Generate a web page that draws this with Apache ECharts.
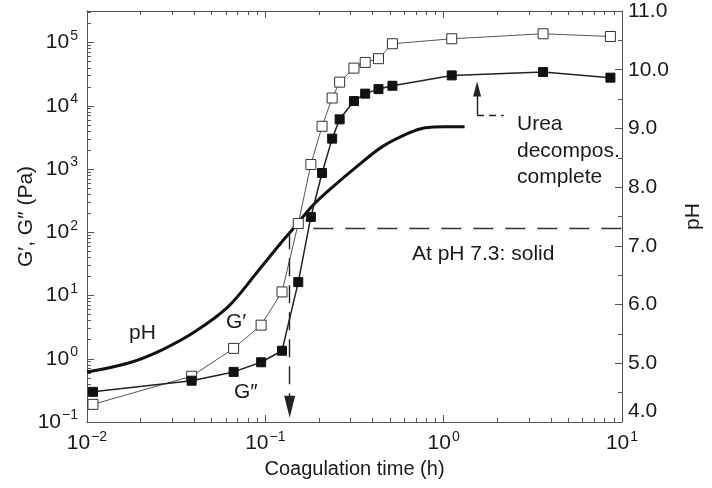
<!DOCTYPE html>
<html>
<head>
<meta charset="utf-8">
<script src="https://cdn.jsdelivr.net/npm/echarts@6/dist/echarts.min.js"></script>
<style>
  html, body { margin: 0; padding: 0; background: #fff; }
  #chart { width: 712px; height: 488px; }
</style>
</head>
<body>
<div id="chart"></div>
<script>
// Coagulation time (h) for the rheology measurements
const timeG = [0.0108, 0.0386, 0.0664, 0.0947, 0.124, 0.153, 0.180, 0.208, 0.237, 0.261, 0.314, 0.363, 0.431, 0.516, 1.11, 3.61, 8.61];
// Storage modulus G' (Pa)
const gPrime = [0.19, 0.53, 1.46, 3.4, 11.4, 138, 1180, 4750, 13300, 23700, 39500, 48600, 55700, 96000, 115000, 138000, 125000];
// Loss modulus G'' (Pa)
const gDouble = [0.30, 0.45, 0.62, 0.88, 1.34, 16.3, 175, 867, 3030, 6120, 11900, 15600, 18400, 20800, 30300, 34200, 27900];
// pH during coagulation
const timePH = [0.01, 0.0173, 0.0264, 0.0404, 0.0617, 0.0904, 0.1216, 0.144, 0.186, 0.240, 0.323, 0.453, 0.635, 0.785, 1.013, 1.31];
const pH = [4.85, 5.01, 5.23, 5.54, 5.96, 6.56, 7.04, 7.30, 7.70, 8.01, 8.34, 8.69, 8.92, 9.01, 9.03, 9.03];

// Axis ranges
const timeRange = [0.01, 10];
const modulusRange = [0.1, 316228];
const pHRange = [4, 11];
const solidPH = 7.3;          // pH at which the body becomes solid
const gelTime = 0.137;        // time of the G'/G'' crossover
const ureaDoneTime = 1.54;    // urea decomposition complete
// Decades and multipliers used for the minor log ticks
const timeDecades = [-2, -1, 0];
const modulusDecades = [-1, 0, 1, 2, 3, 4, 5];
const minorMultipliers = [2, 3, 4, 5, 6, 7, 8, 9];

const ink = '#1a1a1a';
const frame = '#555';
const font = '"Liberation Sans", Arial, Helvetica, sans-serif';

function minorLogTicks(decades, maxExp) {
  const out = [];
  decades.forEach(d => minorMultipliers.forEach(m => {
    const v = d + Math.log10(m);
    if (v < maxExp) out.push(v);
  }));
  return out;
}

function powerLabel(v) {
  const e = Math.log10(v);
  const r = Math.round(e);
  if (Math.abs(e - r) > 1e-6) return '';
  return '{b|10}{e|' + (r < 0 ? '\u2212' + (-r) : String(r)) + '}';
}
const powerRich = {
  b: { fontSize: 21, fontFamily: font, color: ink },
  e: { fontSize: 14, fontFamily: font, color: ink, padding: [0, 0, 13, 1] }
};

const zip = (xs, ys) => xs.map((x, i) => [x, ys[i]]);

const chart = echarts.init(document.getElementById('chart'), null, { renderer: 'canvas' });

const tickLine = { color: frame, width: 1 };
const bareLine = { show: false, onZero: false };
const frameLine = { show: true, onZero: false, lineStyle: tickLine };

const option = {
  backgroundColor: '#fff',
  animation: false,
  grid: { left: 87, right: 82, top: 11, bottom: 66, containLabel: false },
  xAxis: [
    {
      type: 'log', min: timeRange[0], max: timeRange[1], position: 'bottom',
      name: 'Coagulation time (h)', nameLocation: 'middle', nameGap: 37,
      nameTextStyle: { fontSize: 20, fontFamily: font, color: ink },
      axisLine: frameLine,
      axisTick: { show: true, inside: true, length: 7, lineStyle: tickLine },
      axisLabel: { formatter: powerLabel, rich: powerRich, margin: 8 },
      splitLine: { show: false }
    },
    {
      type: 'log', min: timeRange[0], max: timeRange[1], position: 'top',
      axisLine: frameLine,
      axisTick: { show: true, inside: true, length: 7, lineStyle: tickLine },
      axisLabel: { show: false },
      splitLine: { show: false }
    },
    {
      type: 'value', min: -2, max: 1, position: 'bottom',
      axisLine: bareLine,
      axisTick: { show: true, inside: true, length: 4, lineStyle: tickLine, customValues: minorLogTicks(timeDecades, 1) },
      axisLabel: { show: false },
      splitLine: { show: false }
    },
    {
      type: 'value', min: -2, max: 1, position: 'top',
      axisLine: bareLine,
      axisTick: { show: true, inside: true, length: 4, lineStyle: tickLine, customValues: minorLogTicks(timeDecades, 1) },
      axisLabel: { show: false },
      splitLine: { show: false }
    }
  ],
  yAxis: [
    {
      type: 'log', min: modulusRange[0], max: modulusRange[1], position: 'left',
      name: 'G\u2032, G\u2033 (Pa)', nameLocation: 'middle', nameGap: 50, nameRotate: 90,
      nameMoveOverlap: false,
      nameTextStyle: { fontSize: 21, fontFamily: font, color: ink },
      axisLine: frameLine,
      axisTick: { show: true, inside: true, length: 7, lineStyle: tickLine },
      axisLabel: { formatter: powerLabel, rich: powerRich, margin: 9 },
      splitLine: { show: false }
    },
    {
      type: 'value', min: pHRange[0], max: pHRange[1], interval: 1, position: 'right',
      name: 'pH', nameLocation: 'middle', nameGap: 61, nameRotate: 90,
      nameMoveOverlap: false,
      nameTextStyle: { fontSize: 21, fontFamily: font, color: ink },
      axisLine: frameLine,
      axisTick: { show: true, inside: true, length: 7, lineStyle: tickLine },
      minorTick: { show: true, splitNumber: 2, length: 4, lineStyle: tickLine },
      axisLabel: {
        margin: 6, fontSize: 21, fontFamily: font, color: ink,
        formatter: v => v === pHRange[0] ? '{low|' + v.toFixed(1) + '}' : v.toFixed(1),
        rich: { low: { fontSize: 21, fontFamily: font, color: ink, padding: [0, 0, 22, 0] } }
      },
      splitLine: { show: false }
    },
    {
      type: 'value', min: -1, max: 5.5, position: 'left',
      axisLine: bareLine,
      axisTick: { show: true, inside: true, length: 4, lineStyle: tickLine, customValues: minorLogTicks(modulusDecades, 5.5) },
      axisLabel: { show: false },
      splitLine: { show: false }
    }
  ],
  series: [
    {
      name: 'pH', type: 'line', xAxisIndex: 0, yAxisIndex: 1,
      data: zip(timePH, pH), smooth: 0.35, symbol: 'none',
      lineStyle: { color: '#111', width: 3 },
      silent: true, z: 3,
      markLine: {
        silent: true, animation: false,
        label: { show: false },
        emphasis: { disabled: true },
        data: [
          [
            { coord: [0.186, solidPH], symbol: 'none', lineStyle: { color: '#333', width: 1.3, type: [20, 12] } },
            { coord: [timeRange[1], solidPH], symbol: 'none' }
          ],
          [
            { coord: [gelTime, 7.25], symbol: 'none', lineStyle: { color: '#222', width: 1.4, type: [18, 9] } },
            { coord: [gelTime, 4.26], symbol: 'triangle', symbolSize: [11, 22] }
          ],
          [
            { coord: [ureaDoneTime, 9.23], symbol: 'none', lineStyle: { color: '#222', width: 1.4, type: 'solid' } },
            { coord: [ureaDoneTime, 9.67], symbol: 'triangle', symbolSize: [8, 15] }
          ],
          [
            { coord: [ureaDoneTime, 9.23], symbol: 'none', lineStyle: { color: '#222', width: 1.3, type: [7, 5] } },
            { coord: [2.17, 9.23], symbol: 'none' }
          ]
        ],
        itemStyle: { color: '#111' }
      }
    },
    {
      name: 'G\u2032', type: 'line', xAxisIndex: 0, yAxisIndex: 0,
      data: zip(timeG, gPrime), symbol: 'rect', symbolSize: 10,
      lineStyle: { color: '#555', width: 1 },
      itemStyle: { color: '#fff', borderColor: '#333', borderWidth: 1 },
      silent: true, z: 4
    },
    {
      name: 'G\u2033', type: 'line', xAxisIndex: 0, yAxisIndex: 0,
      data: zip(timeG, gDouble), symbol: 'rect', symbolSize: 9,
      lineStyle: { color: '#222', width: 1.5 },
      itemStyle: { color: '#111', borderColor: '#111', borderWidth: 1 },
      silent: true, z: 5
    }
  ]
};

const annotation = (text, x, y) => ({
  type: 'text', silent: true, x: x, y: y,
  style: { text: text, fontSize: 21, fontFamily: font, fill: ink, align: 'left', verticalAlign: 'middle' }
});
option.graphic = [
  annotation('pH', 129, 333),
  annotation('G\u2032', 226, 322),
  annotation('G\u2033', 234, 392),
  annotation('At pH 7.3: solid', 412, 254),
  annotation('Urea', 517, 124),
  annotation('decompos.', 517, 151),
  annotation('complete', 517, 177)
];

chart.setOption(option);
</script>
</body>
</html>
